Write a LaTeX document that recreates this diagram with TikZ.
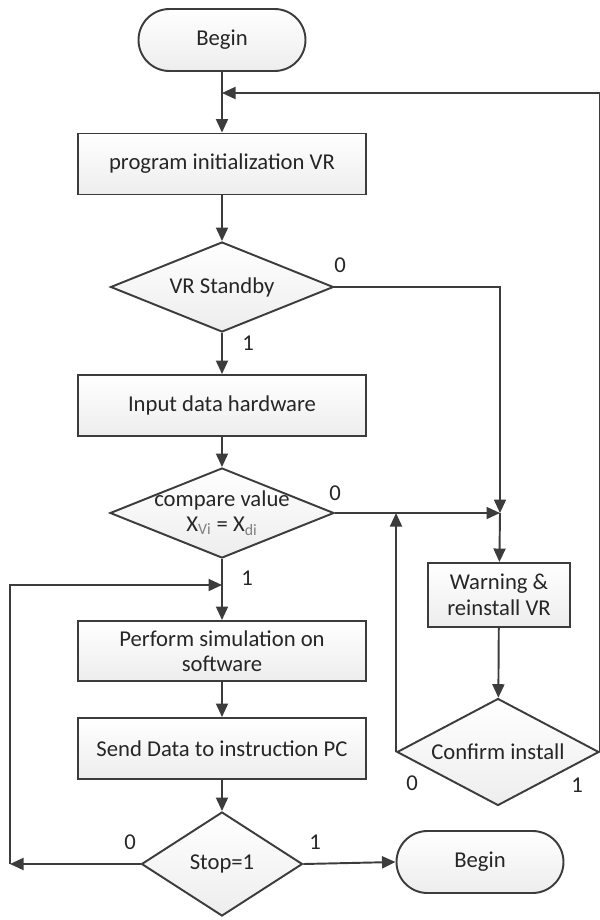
\documentclass[tikz,border=0pt]{standalone}
\usepackage{fontspec}
\setmainfont{Carlito}
\usetikzlibrary{shapes.geometric,arrows.meta}
\definecolor{linegray}{HTML}{3C3C3C}
\tikzset{
  >={Triangle[length=2.7mm,width=2.4mm]},
  txt/.style={font=\fontsize{12.9}{15}\selectfont,text=black!85},
  procbox/.style={txt,rectangle,draw=linegray,line width=1.1pt,top color=white,bottom color=gray!14,
    minimum width=57.6mm,minimum height=12.2mm,align=center,inner sep=1pt},
  termbox/.style={txt,rectangle,rounded corners=6.2mm,draw=linegray,line width=1.1pt,top color=white,
    bottom color=gray!14,minimum width=33.4mm,minimum height=12.4mm},
  decide/.style={diamond,draw=linegray,line width=1.1pt,top color=white,bottom color=gray!14,inner sep=0pt},
  num/.style={txt,inner sep=0pt}
}
\begin{document}
\begin{tikzpicture}[x=0.2mm,y=-0.2mm,color=linegray,line width=1.1pt]
    \useasboundingbox (0,0) rectangle (600,920);
    %Start
    \node[termbox] (begin) at (222,40) {Begin};
    \node[procbox] (init) at (222,164) {program initialization VR};
    \coordinate (topjoin) at (222,93);
    \draw[->] (begin) -- (init);
    %Standby check
    \node[decide,minimum width=44.6mm,minimum height=18mm,label={[txt]center:VR Standby}] (standby) at (222,287) {};
    \draw[->] (init) -- (standby);
    \node[num] (s0) at (340,265) {0};
    \node[num] (s1) at (248,343) {1};
    %Hardware input
    \node[procbox] (input) at (222,405.5) {Input data hardware};
    \draw[->] (standby) -- (input);
    %Compare
    \node[decide,minimum width=44.8mm,minimum height=18mm,
      label={[txt,align=center]center:compare value\\[-1pt]X\textsubscript{\color{gray}Vi} = X\textsubscript{\color{gray}di}}] (compare) at (222,513) {};
    \draw[->] (input) -- (compare);
    \node[num] (c0) at (335,493) {0};
    \node[num] (c1) at (247,578) {1};
    %Warning branch
    \coordinate (join) at (500,513);
    \node[procbox,minimum width=28.4mm,minimum height=12.8mm] (warn) at (499,595) {Warning \&\\reinstall VR};
    \node[decide,minimum width=40.4mm,minimum height=21.4mm,label={[txt]center:Confirm install}] (confirm) at (498,752) {};
    \draw[->] (standby.east) -| (join);
    \draw[->] (compare.east) -- (join);
    \draw[->] (join) -- (warn);
    \draw[->] (warn) -- (confirm);
    \draw[->] (confirm.west) -- (confirm.west |- join);
    \draw[->] (confirm.east) |- (topjoin);
    \node[num] (f0) at (412,783) {0};
    \node[num] (f1) at (577,785) {1};
    %Simulation
    \coordinate (loopjoin) at (222,585);
    \node[procbox,minimum height=12mm] (perform) at (222,651) {Perform simulation on\\[-1pt]software};
    \node[procbox] (send) at (222,748.5) {Send Data to instruction PC};
    \draw[->] (compare) -- (perform);
    \draw[->] (perform) -- (send);
    %Stop
    \node[decide,minimum width=32.2mm,minimum height=20.8mm,label={[txt]center:Stop=1}] (stop) at (222,864) {};
    \node[termbox] (finish) at (480,862) {Begin};
    \coordinate (corner) at (10,864);
    \draw[->] (send) -- (stop);
    \draw[->] (stop.east) -- (finish.west);
    \draw[->] (stop.west) -- (corner);
    \draw[->] (corner) |- (loopjoin);
    \node[num] (t0) at (130,842) {0};
    \node[num] (t1) at (315,842) {1};
\end{tikzpicture}
\end{document}
